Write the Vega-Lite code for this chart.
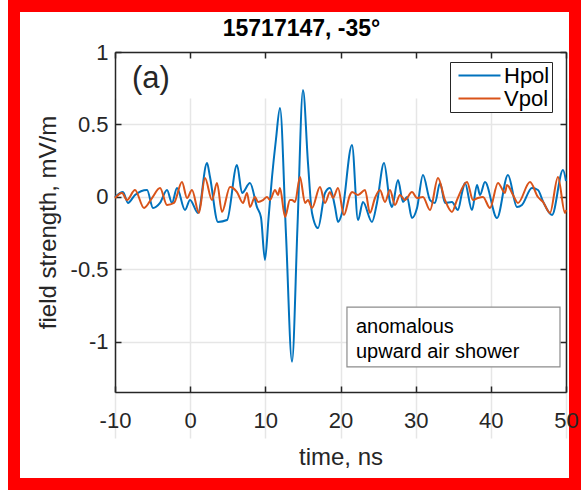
{
  "$schema": "https://vega.github.io/schema/vega-lite/v6.json",
  "width": 561,
  "height": 478,
  "autosize": {"type": "none"},
  "padding": {"left": 14, "top": 6, "right": 6, "bottom": 6},
  "background": "white",
  "title": {"text": "15717147, -35°", "fontSize": 23, "fontWeight": "bold", "font": "Liberation Sans", "color": "#000000", "anchor": "middle", "frame": "group", "offset": -35, "dx": 7},
  "config": {
    "view": {"fill": "white", "stroke": "#ff0000", "strokeWidth": 12},
    "font": "Liberation Sans",
    "axis": {"domainColor": "#262626", "tickColor": "#262626", "labelColor": "#262626", "titleColor": "#262626", "labelFontSize": 22, "titleFontSize": 24, "titleFontWeight": "normal", "domainWidth": 1.5, "tickWidth": 1.5, "tickSize": -6, "gridColor": "#e6e6e6", "gridWidth": 1.5, "labelFont": "Liberation Sans", "titleFont": "Liberation Sans"}
  },
  "datasets": {
    "wave": [
      {"s": "Hpol", "t": -10.0, "v": 0.0},
      {"s": "Hpol", "t": -8.94, "v": 0.034},
      {"s": "Hpol", "t": -8.27, "v": -0.041},
      {"s": "Hpol", "t": -7.34, "v": 0.014},
      {"s": "Hpol", "t": -5.74, "v": 0.048},
      {"s": "Hpol", "t": -4.94, "v": -0.076},
      {"s": "Hpol", "t": -4.01, "v": -0.041},
      {"s": "Hpol", "t": -3.08, "v": 0.048},
      {"s": "Hpol", "t": -2.42, "v": -0.041},
      {"s": "Hpol", "t": -1.75, "v": 0.062},
      {"s": "Hpol", "t": -0.69, "v": -0.09},
      {"s": "Hpol", "t": -0.02, "v": -0.021},
      {"s": "Hpol", "t": 1.04, "v": -0.11},
      {"s": "Hpol", "t": 2.24, "v": 0.234},
      {"s": "Hpol", "t": 2.64, "v": 0.138},
      {"s": "Hpol", "t": 3.7, "v": -0.172},
      {"s": "Hpol", "t": 4.9, "v": -0.159},
      {"s": "Hpol", "t": 6.23, "v": 0.221},
      {"s": "Hpol", "t": 6.9, "v": 0.028},
      {"s": "Hpol", "t": 7.96, "v": 0.097},
      {"s": "Hpol", "t": 8.89, "v": -0.07},
      {"s": "Hpol", "t": 9.42, "v": -0.14},
      {"s": "Hpol", "t": 9.95, "v": -0.434},
      {"s": "Hpol", "t": 10.42, "v": -0.15},
      {"s": "Hpol", "t": 10.89, "v": 0.138},
      {"s": "Hpol", "t": 11.42, "v": 0.4},
      {"s": "Hpol", "t": 11.95, "v": 0.614},
      {"s": "Hpol", "t": 12.75, "v": -0.26},
      {"s": "Hpol", "t": 13.55, "v": -1.136},
      {"s": "Hpol", "t": 14.28, "v": -0.2},
      {"s": "Hpol", "t": 15.01, "v": 0.738},
      {"s": "Hpol", "t": 15.68, "v": 0.23},
      {"s": "Hpol", "t": 16.21, "v": -0.11},
      {"s": "Hpol", "t": 17.01, "v": -0.214},
      {"s": "Hpol", "t": 17.94, "v": 0.028},
      {"s": "Hpol", "t": 18.6, "v": 0.062},
      {"s": "Hpol", "t": 19.27, "v": -0.069},
      {"s": "Hpol", "t": 19.67, "v": -0.172},
      {"s": "Hpol", "t": 20.2, "v": -0.11},
      {"s": "Hpol", "t": 21.53, "v": 0.359},
      {"s": "Hpol", "t": 22.33, "v": -0.159},
      {"s": "Hpol", "t": 22.99, "v": -0.034},
      {"s": "Hpol", "t": 24.19, "v": -0.172},
      {"s": "Hpol", "t": 24.85, "v": -0.041},
      {"s": "Hpol", "t": 25.79, "v": 0.234},
      {"s": "Hpol", "t": 26.58, "v": -0.034},
      {"s": "Hpol", "t": 26.85, "v": -0.069},
      {"s": "Hpol", "t": 27.65, "v": 0.117},
      {"s": "Hpol", "t": 28.31, "v": -0.034},
      {"s": "Hpol", "t": 28.85, "v": 0.0},
      {"s": "Hpol", "t": 29.51, "v": -0.145},
      {"s": "Hpol", "t": 30.18, "v": -0.076},
      {"s": "Hpol", "t": 30.97, "v": 0.152},
      {"s": "Hpol", "t": 31.91, "v": -0.021},
      {"s": "Hpol", "t": 32.57, "v": -0.041},
      {"s": "Hpol", "t": 33.24, "v": 0.097},
      {"s": "Hpol", "t": 33.9, "v": -0.041},
      {"s": "Hpol", "t": 34.83, "v": -0.034},
      {"s": "Hpol", "t": 35.63, "v": -0.09},
      {"s": "Hpol", "t": 36.16, "v": 0.028},
      {"s": "Hpol", "t": 36.56, "v": 0.097},
      {"s": "Hpol", "t": 37.49, "v": -0.09},
      {"s": "Hpol", "t": 38.16, "v": 0.083},
      {"s": "Hpol", "t": 38.56, "v": 0.014},
      {"s": "Hpol", "t": 39.22, "v": 0.103},
      {"s": "Hpol", "t": 40.82, "v": -0.145},
      {"s": "Hpol", "t": 42.28, "v": 0.152},
      {"s": "Hpol", "t": 43.48, "v": -0.069},
      {"s": "Hpol", "t": 44.14, "v": -0.055},
      {"s": "Hpol", "t": 45.47, "v": 0.062},
      {"s": "Hpol", "t": 46.27, "v": 0.048},
      {"s": "Hpol", "t": 46.94, "v": -0.03},
      {"s": "Hpol", "t": 48.14, "v": -0.124},
      {"s": "Hpol", "t": 49.6, "v": 0.186},
      {"s": "Hpol", "t": 50.0, "v": 0.11},
      {"s": "Vpol", "t": -10.0, "v": -0.007},
      {"s": "Vpol", "t": -9.07, "v": 0.028},
      {"s": "Vpol", "t": -8.4, "v": -0.021},
      {"s": "Vpol", "t": -7.34, "v": 0.048},
      {"s": "Vpol", "t": -6.14, "v": -0.076},
      {"s": "Vpol", "t": -5.08, "v": -0.007},
      {"s": "Vpol", "t": -4.01, "v": 0.062},
      {"s": "Vpol", "t": -3.08, "v": -0.055},
      {"s": "Vpol", "t": -2.15, "v": -0.041},
      {"s": "Vpol", "t": -1.09, "v": 0.103},
      {"s": "Vpol", "t": -0.42, "v": -0.007},
      {"s": "Vpol", "t": 0.24, "v": 0.048},
      {"s": "Vpol", "t": 1.17, "v": -0.11},
      {"s": "Vpol", "t": 1.97, "v": 0.131},
      {"s": "Vpol", "t": 2.9, "v": -0.021},
      {"s": "Vpol", "t": 3.57, "v": 0.097},
      {"s": "Vpol", "t": 4.23, "v": -0.103},
      {"s": "Vpol", "t": 5.3, "v": 0.069},
      {"s": "Vpol", "t": 6.23, "v": 0.034},
      {"s": "Vpol", "t": 7.03, "v": -0.041},
      {"s": "Vpol", "t": 7.56, "v": 0.028},
      {"s": "Vpol", "t": 7.96, "v": -0.069},
      {"s": "Vpol", "t": 8.62, "v": 0.0},
      {"s": "Vpol", "t": 9.02, "v": -0.034},
      {"s": "Vpol", "t": 9.69, "v": -0.021},
      {"s": "Vpol", "t": 10.22, "v": 0.0},
      {"s": "Vpol", "t": 10.62, "v": -0.021},
      {"s": "Vpol", "t": 11.29, "v": 0.048},
      {"s": "Vpol", "t": 11.68, "v": 0.014},
      {"s": "Vpol", "t": 11.95, "v": 0.062},
      {"s": "Vpol", "t": 12.62, "v": -0.138},
      {"s": "Vpol", "t": 13.28, "v": -0.021},
      {"s": "Vpol", "t": 13.55, "v": -0.021},
      {"s": "Vpol", "t": 13.95, "v": -0.034},
      {"s": "Vpol", "t": 14.61, "v": 0.138},
      {"s": "Vpol", "t": 15.28, "v": -0.041},
      {"s": "Vpol", "t": 15.68, "v": -0.021},
      {"s": "Vpol", "t": 16.21, "v": -0.076},
      {"s": "Vpol", "t": 17.27, "v": 0.069},
      {"s": "Vpol", "t": 17.94, "v": -0.041},
      {"s": "Vpol", "t": 18.6, "v": 0.034},
      {"s": "Vpol", "t": 19.0, "v": -0.007},
      {"s": "Vpol", "t": 19.67, "v": 0.062},
      {"s": "Vpol", "t": 20.46, "v": -0.124},
      {"s": "Vpol", "t": 21.26, "v": 0.014},
      {"s": "Vpol", "t": 21.53, "v": 0.034},
      {"s": "Vpol", "t": 22.33, "v": 0.014},
      {"s": "Vpol", "t": 23.26, "v": 0.048},
      {"s": "Vpol", "t": 23.92, "v": -0.11},
      {"s": "Vpol", "t": 24.59, "v": -0.007},
      {"s": "Vpol", "t": 25.25, "v": 0.048},
      {"s": "Vpol", "t": 25.92, "v": -0.034},
      {"s": "Vpol", "t": 26.58, "v": 0.048},
      {"s": "Vpol", "t": 27.25, "v": -0.055},
      {"s": "Vpol", "t": 27.91, "v": 0.014},
      {"s": "Vpol", "t": 28.58, "v": -0.021},
      {"s": "Vpol", "t": 29.51, "v": 0.034},
      {"s": "Vpol", "t": 30.18, "v": -0.007},
      {"s": "Vpol", "t": 30.97, "v": 0.0},
      {"s": "Vpol", "t": 31.91, "v": -0.09},
      {"s": "Vpol", "t": 32.97, "v": 0.131},
      {"s": "Vpol", "t": 33.9, "v": -0.021},
      {"s": "Vpol", "t": 34.83, "v": -0.103},
      {"s": "Vpol", "t": 35.5, "v": -0.02},
      {"s": "Vpol", "t": 36.83, "v": 0.103},
      {"s": "Vpol", "t": 37.63, "v": -0.021},
      {"s": "Vpol", "t": 38.29, "v": -0.007},
      {"s": "Vpol", "t": 38.96, "v": 0.0},
      {"s": "Vpol", "t": 39.89, "v": -0.076},
      {"s": "Vpol", "t": 40.95, "v": 0.097},
      {"s": "Vpol", "t": 41.88, "v": 0.028},
      {"s": "Vpol", "t": 42.15, "v": 0.083},
      {"s": "Vpol", "t": 42.95, "v": 0.014},
      {"s": "Vpol", "t": 43.61, "v": -0.041},
      {"s": "Vpol", "t": 45.21, "v": 0.103},
      {"s": "Vpol", "t": 46.27, "v": 0.0},
      {"s": "Vpol", "t": 46.94, "v": -0.034},
      {"s": "Vpol", "t": 47.87, "v": -0.11},
      {"s": "Vpol", "t": 48.93, "v": 0.138},
      {"s": "Vpol", "t": 49.86, "v": -0.11},
      {"s": "Vpol", "t": 50.0, "v": -0.09}
    ]
  },
  "resolve": {"axis": {"x": "independent", "y": "independent"}},
  "layer": [
    {
      "data": {"values": [{}]},
      "mark": {"type": "rect", "fill": "white", "stroke": "#8c8c8c", "strokeWidth": 1.2},
      "encoding": {
        "x": {"datum": 20.86, "type": "quantitative", "scale": {"domain": [-10, 50], "range": [101, 552], "nice": false, "zero": false}, "axis": {"orient": "top", "offset": -46, "values": [-10, 0, 10, 20, 30, 40, 50], "labels": false, "title": null, "grid": false}},
        "x2": {"datum": 49.2},
        "y": {"datum": -0.759, "type": "quantitative", "scale": {"domain": [-1.345, 1], "range": [386, 46], "nice": false, "zero": false}, "axis": {"orient": "right", "offset": -9, "values": [-1, -0.5, 0, 0.5, 1], "labels": false, "title": null, "grid": false}},
        "y2": {"datum": -1.172}
      }
    },
    {
      "data": {"name": "wave"},
      "mark": {"type": "line", "interpolate": "monotone", "strokeWidth": 2},
      "encoding": {
        "x": {"field": "t", "type": "quantitative", "scale": {"domain": [-10, 50], "range": [101, 552], "nice": false, "zero": false}, "axis": {"orient": "bottom", "offset": -92, "values": [-10, 0, 10, 20, 30, 40, 50], "grid": true, "title": "time, ns", "labelPadding": 24, "titlePadding": 14, "labelFlush": false, "labelOverlap": false, "labelExpr": "'' + datum.value"}},
        "y": {"field": "v", "type": "quantitative", "scale": {"domain": [-1.345, 1], "range": [386, 46], "nice": false, "zero": false}, "axis": {"orient": "left", "offset": -101, "values": [-1, -0.5, 0, 0.5, 1], "grid": true, "title": "field strength, mV/m", "labelPadding": 13, "titlePadding": 10, "labelFlush": false, "labelOverlap": false, "labelExpr": "'' + datum.value"}},
        "color": {"field": "s", "type": "nominal", "scale": {"domain": ["Hpol", "Vpol"], "range": ["#0072BD", "#D95319"]}, "legend": {"orient": "none", "legendX": 436, "legendY": 56, "title": null, "strokeColor": "#262626", "fillColor": "white", "padding": 2, "labelFontSize": 22, "labelColor": "#000000", "labelFont": "Liberation Sans", "symbolType": "M-2,0L2,0", "symbolSize": 441, "symbolStrokeWidth": 2, "symbolOffset": 16, "rowPadding": -1, "labelOffset": 13}}
      }
    },
    {
      "data": {"values": [{}]},
      "mark": {"type": "text", "text": "(a)", "fontSize": 31, "align": "left", "baseline": "middle", "color": "#262626"},
      "encoding": {
        "x": {"datum": -7.74, "type": "quantitative", "axis": null},
        "y": {"datum": 0.814, "type": "quantitative", "axis": null}
      }
    },
    {
      "data": {"values": [{}]},
      "mark": {"type": "text", "text": "anomalous", "fontSize": 20, "align": "left", "baseline": "middle", "color": "#000000"},
      "encoding": {
        "x": {"datum": 22.06, "type": "quantitative", "axis": null},
        "y": {"datum": -0.897, "type": "quantitative", "axis": null}
      }
    },
    {
      "data": {"values": [{}]},
      "mark": {"type": "text", "text": "upward air shower", "fontSize": 20, "align": "left", "baseline": "middle", "color": "#000000"},
      "encoding": {
        "x": {"datum": 22.06, "type": "quantitative", "axis": null},
        "y": {"datum": -1.069, "type": "quantitative", "axis": null}
      }
    }
  ]
}
